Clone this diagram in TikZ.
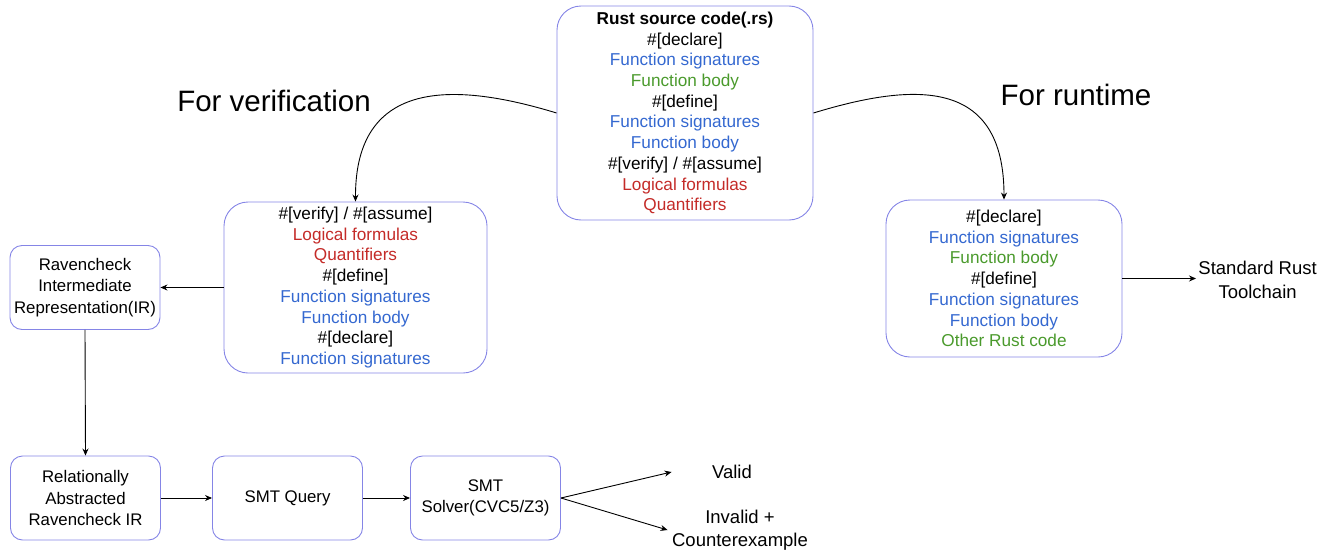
\documentclass[tikz,border=0pt]{standalone}
\usepackage{fontspec}
\setmainfont{Liberation Sans}
\usetikzlibrary{arrows.meta,positioning}
\definecolor{boxline}{HTML}{8585E6}
\definecolor{sigblue}{HTML}{3468D0}
\definecolor{bodygreen}{HTML}{4A9A2C}
\definecolor{logicred}{HTML}{C42B28}
\newcommand{\sig}[1]{\textcolor{sigblue}{#1}}
\newcommand{\bodyg}[1]{\textcolor{bodygreen}{#1}}
\newcommand{\logic}[1]{\textcolor{logicred}{#1}}

\begin{document}
\begin{tikzpicture}[x=1pt, y=-1pt, line width=0.9pt,
    >={Stealth[length=7pt,width=6pt]},
    every node/.style={font=\fontsize{17.2}{20.7}\selectfont},
    codebox/.style={draw=boxline, rounded corners=24pt, align=center, inner sep=0pt},
    stagebox/.style={draw=boxline, rounded corners=12pt, align=center, inner sep=0pt,
      minimum width=150pt, minimum height=84pt, font=\fontsize{16.8}{21.2}\selectfont},
    result/.style={align=center, inner sep=2pt, font=\fontsize{18.5}{23.5}\selectfont},
    caption/.style={font=\fontsize{29.5}{32}\selectfont}]
  \useasboundingbox (0,0) rectangle (1338,554);
  % annotated source is split two ways: verifier and normal build
  \node[codebox, minimum width=256pt, minimum height=214pt] (src) at (685,113)
    {\textbf{Rust source code(.rs)}\\\#[declare]\\\sig{Function signatures}\\\bodyg{Function body}\\
     \#[define]\\\sig{Function signatures}\\\sig{Function body}\\\#[verify] / \#[assume]\\
     \logic{Logical formulas}\\\logic{Quantifiers}};
  \node[codebox, minimum width=263pt, minimum height=171pt] (verif) at (355.5,287.5)
    {\#[verify] / \#[assume]\\\logic{Logical formulas}\\\logic{Quantifiers}\\\#[define]\\
     \sig{Function signatures}\\\sig{Function body}\\\#[declare]\\\sig{Function signatures}};
  \node[codebox, minimum width=236pt, minimum height=157pt] (rt) at (1004,278.5)
    {\#[declare]\\\sig{Function signatures}\\\bodyg{Function body}\\\#[define]\\
     \sig{Function signatures}\\\sig{Function body}\\\bodyg{Other Rust code}};
  \node[caption] (vlab) at (274,101) {For verification};
  \node[caption] (rlab) at (1076,95) {For runtime};
  \node[result, anchor=west] (std) at (1196,280) {Standard Rust\\Toolchain};

  \node[stagebox] (ir) at (85,287.5) {Ravencheck\\Intermediate\\Representation(IR)};
  \node[stagebox] (rel) at (85.5,498) {Relationally\\Abstracted\\Ravencheck IR};
  \node[stagebox] (query) at (287.5,498) {SMT Query};
  \node[stagebox] (solver) at (485.5,498) {SMT\\Solver(CVC5/Z3)};
  \node[result, minimum width=120pt] (valid) at (732,472) {Valid};
  \node[result, minimum width=144pt] (invalid) at (740,530) {Invalid +\\Counterexample};

  \draw[->] (src.west) .. controls (455,82) and (355,78) .. (verif.north);
  \draw[->] (src.east) .. controls (915,82) and (1004,78) .. (rt.north);
  \draw[->] (verif.west) -- (ir.east);
  \draw[->] (rt.east) -- (rt.east -| std.west);
  \draw[->] (ir.south) -- (rel.north);
  \draw[->] (rel) -- (query);
  \draw[->] (query) -- (solver);
  \draw[->] (solver.east) -- (valid.west);
  \draw[->] (solver.east) -- (invalid.west);
\end{tikzpicture}
\end{document}
